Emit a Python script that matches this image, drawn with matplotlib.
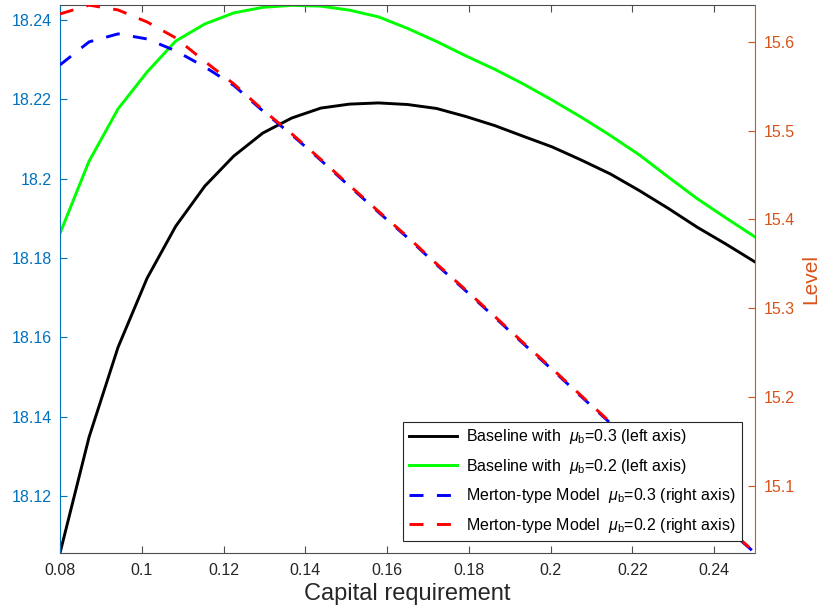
import matplotlib.pyplot as plt

plt.rcParams['font.family'] = ['Liberation Sans', 'DejaVu Sans']
plt.rcParams['mathtext.fontset'] = 'custom'
plt.rcParams['mathtext.rm'] = 'Liberation Sans'
plt.rcParams['mathtext.it'] = 'Liberation Sans:italic'

# Capital requirement grid
cap_req = [0.0800, 0.0871, 0.0942, 0.1013, 0.1083, 0.1154, 0.1225, 0.1296,
           0.1367, 0.1438, 0.1508, 0.1579, 0.1650, 0.1721, 0.1792, 0.1863,
           0.1933, 0.2004, 0.2075, 0.2146, 0.2217, 0.2288, 0.2358, 0.2429,
           0.2500]

# Baseline model (left axis)
base_mu03 = [18.1056, 18.1348, 18.1575, 18.1749, 18.1880, 18.1981, 18.2057,
             18.2115, 18.2153, 18.2178, 18.2188, 18.2191, 18.2187, 18.2177,
             18.2157, 18.2134, 18.2107, 18.2080, 18.2047, 18.2012, 18.1970,
             18.1925, 18.1878, 18.1835, 18.1790]
base_mu02 = [18.1862, 18.2044, 18.2176, 18.2269, 18.2347, 18.2390, 18.2418,
             18.2432, 18.2437, 18.2435, 18.2425, 18.2408, 18.2379, 18.2346,
             18.2310, 18.2276, 18.2239, 18.2198, 18.2155, 18.2109, 18.2060,
             18.2004, 18.1950, 18.1901, 18.1853]

# Merton-type model (right axis)
merton_mu03 = [15.5738, 15.5997, 15.6087, 15.6030, 15.5896, 15.5716, 15.5508,
               15.5221, 15.4952, 15.4666, 15.4374, 15.4082, 15.3796, 15.3492,
               15.3200, 15.2902, 15.2605, 15.2312, 15.2009, 15.1711, 15.1414,
               15.1116, 15.0824, 15.0537, 15.0250]
merton_mu02 = [15.6311, 15.6410, 15.6356, 15.6221, 15.6042, 15.5778, 15.5525,
               15.5233, 15.4963, 15.4676, 15.4384, 15.4092, 15.3806, 15.3502,
               15.3210, 15.2912, 15.2615, 15.2322, 15.2019, 15.1721, 15.1424,
               15.1126, 15.0834, 15.0547, 15.0255]

x_ticks = [0.08, 0.10, 0.12, 0.14, 0.16, 0.18, 0.20, 0.22, 0.24]
x_labels = ['0.08', '0.1', '0.12', '0.14', '0.16', '0.18', '0.2', '0.22', '0.24']
left_ticks = [18.12, 18.14, 18.16, 18.18, 18.20, 18.22, 18.24]
left_labels = ['18.12', '18.14', '18.16', '18.18', '18.2', '18.22', '18.24']
right_ticks = [15.1, 15.2, 15.3, 15.4, 15.5, 15.6]
right_labels = ['15.1', '15.2', '15.3', '15.4', '15.5', '15.6']

left_col = '#0072BD'
right_col = '#D95319'
axis_col = '#4d4d4d'
dash = (0, (4.8, 4.6))

fig = plt.figure(figsize=(8.22, 6.14), dpi=100)
ax = fig.add_axes([0.073, 0.0993, 0.8455, 0.8926])
ax2 = ax.twinx()

l1, = ax.plot(cap_req, base_mu03, color='k', lw=2.1)
l2, = ax.plot(cap_req, base_mu02, color='#00FF00', lw=2.1)
l3, = ax2.plot(cap_req, merton_mu03, color='#0000FF', lw=2.1, linestyle=dash,
               dash_capstyle='butt')
l4, = ax2.plot(cap_req, merton_mu02, color='#FF0000', lw=2.1, linestyle=dash,
               dash_capstyle='butt')

ax.set_xlim(0.08, 0.25)
ax.set_ylim(18.1056, 18.2438)
ax2.set_ylim(15.0250, 15.6412)

ax.set_xticks(x_ticks)
ax.set_xticklabels(x_labels)
ax.set_yticks(left_ticks)
ax.set_yticklabels(left_labels)
ax2.set_yticks(right_ticks)
ax2.set_yticklabels(right_labels)

ax.tick_params(axis='x', direction='in', top=True, length=5, width=0.8,
               color=axis_col, labelcolor='#262626', labelsize=11.5, pad=7)
ax.tick_params(axis='y', direction='in', length=5, width=0.8,
               color=left_col, labelcolor=left_col, labelsize=11.5, pad=6)
ax2.tick_params(axis='y', direction='in', length=5, width=0.8,
                color=right_col, labelcolor=right_col, labelsize=11.5, pad=6)

for s in ['top', 'bottom']:
    ax.spines[s].set_color(axis_col)
    ax.spines[s].set_linewidth(0.8)
    ax2.spines[s].set_visible(False)
ax.spines['left'].set_color(left_col)
ax.spines['right'].set_visible(False)
ax2.spines['left'].set_visible(False)
ax2.spines['right'].set_color(right_col)
ax2.spines['right'].set_linewidth(0.8)
ax.spines['left'].set_linewidth(0.8)

ax.set_xlabel('Capital requirement', fontsize=17, color='#262626', labelpad=4)
ax2.set_ylabel('Level', fontsize=15, color=right_col, labelpad=5)

labels = [r'Baseline with  $\mu_{\rm b}$=0.3 (left axis)',
          r'Baseline with  $\mu_{\rm b}$=0.2 (left axis)',
          r'Merton-type Model  $\mu_{\rm b}$=0.3 (right axis)',
          r'Merton-type Model  $\mu_{\rm b}$=0.2 (right axis)']
leg = ax2.legend([l1, l2, l3, l4], labels, loc='lower right',
                 bbox_to_anchor=(741.7 / 822, (614 - 540.7) / 614),
                 bbox_transform=fig.transFigure, borderaxespad=0,
                 fontsize=11.5, handlelength=3.0, handletextpad=0.6,
                 labelspacing=0.66, borderpad=0.36, fancybox=False,
                 framealpha=1, edgecolor='#262626')
leg.get_frame().set_linewidth(0.8)

fig.savefig('out.png', dpi=100)
